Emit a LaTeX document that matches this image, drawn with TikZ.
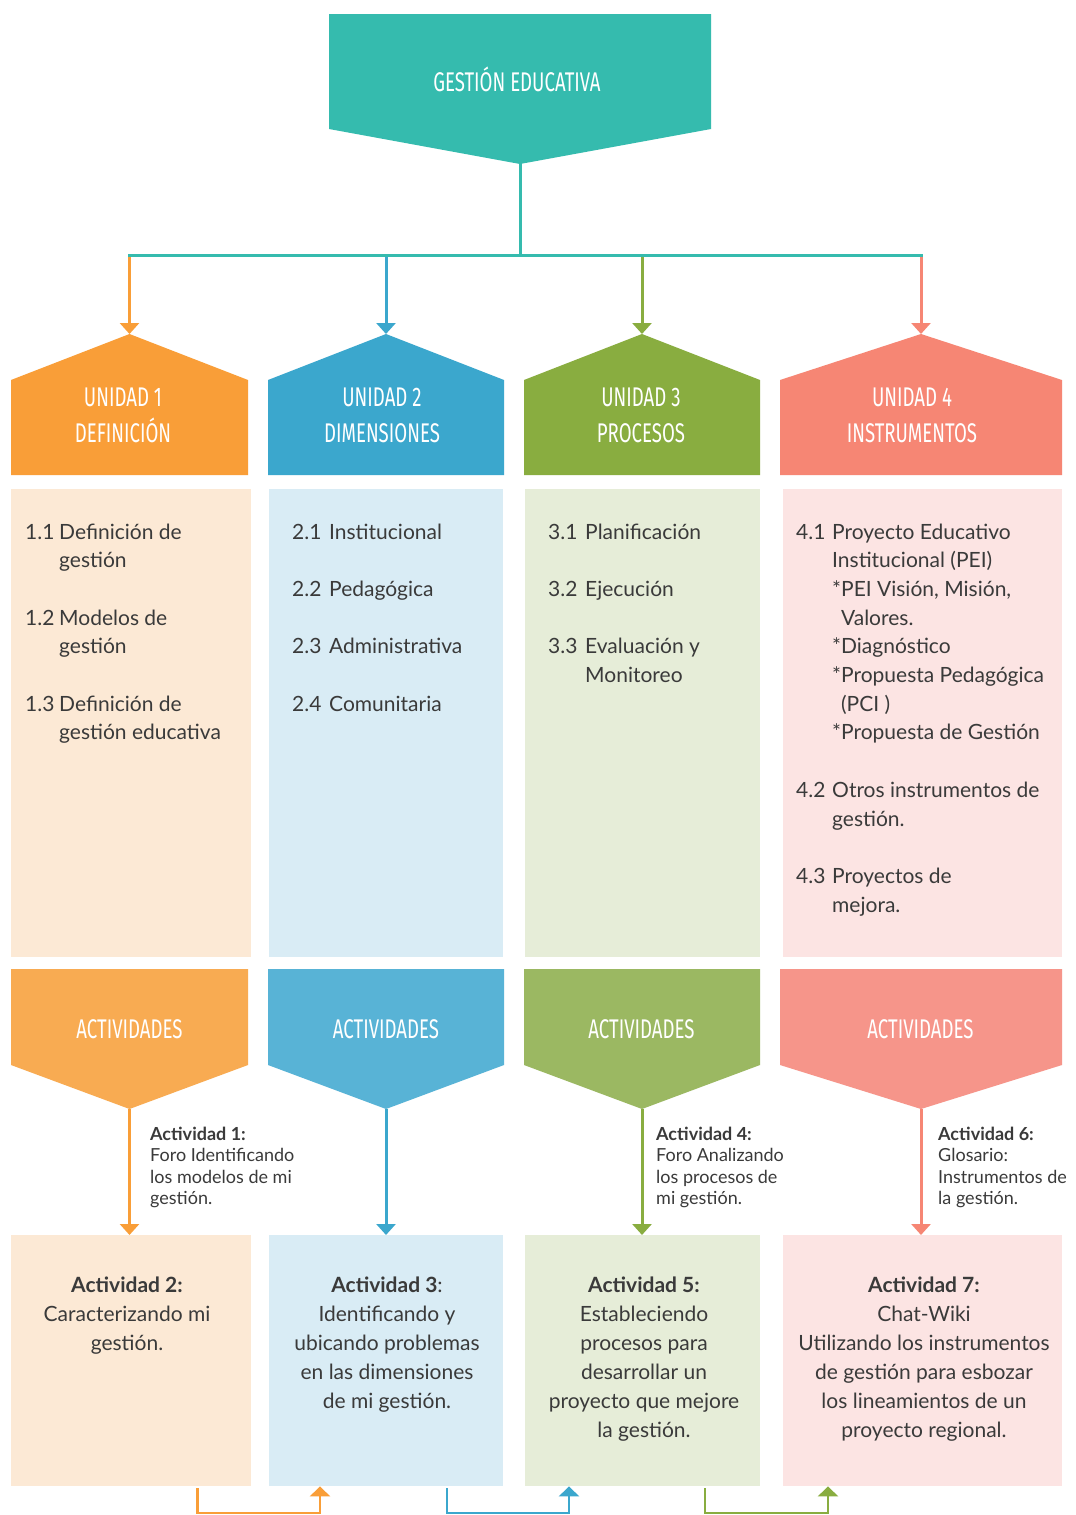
\documentclass[tikz,border=0pt]{standalone}
\usepackage{fontspec}
\setmainfont{Lato}
\newfontfamily\condfont[FakeStretch=0.69]{Fira Sans}
\usetikzlibrary{arrows.meta}
\definecolor{cTeal}{HTML}{35BBAE}
\definecolor{cOrU}{HTML}{F99E38}\definecolor{cOrA}{HTML}{F8AB52}\definecolor{cOrL}{HTML}{FCE9D5}
\definecolor{cBlU}{HTML}{3BA7CD}\definecolor{cBlA}{HTML}{58B3D6}\definecolor{cBlL}{HTML}{D9ECF5}
\definecolor{cGrU}{HTML}{89AD40}\definecolor{cGrA}{HTML}{9BB862}\definecolor{cGrL}{HTML}{E6EDD8}
\definecolor{cRdU}{HTML}{F68674}\definecolor{cRdA}{HTML}{F6958A}\definecolor{cRdL}{HTML}{FCE4E3}
\definecolor{cText}{HTML}{3A3A3A}
\newlength\numw
\newcommand\itm[1]{\makebox[\numw][l]{#1}}
\newcommand\cont{\hspace*{\numw}}
\newcommand\llines[1]{\begin{tabular}[t]{@{}l@{}}#1\end{tabular}}
\newcommand\clines[1]{\begin{tabular}[t]{@{}c@{}}#1\end{tabular}}
\newcommand\unitshape[4]{%
  \fill[#3] ({#1-#2},380) -- (#1,334) -- ({#1+#2},380) -- ({#1+#2},475) -- ({#1-#2},475) -- cycle;
  \coordinate (#4) at (#1,334);}
\newcommand\actshape[4]{%
  \fill[#3] ({#1-#2},969) -- ({#1+#2},969) -- ({#1+#2},1065) -- (#1,1109) -- ({#1-#2},1065) -- cycle;
  \coordinate (#4) at (#1,1109);}
\begin{document}
\begin{tikzpicture}[x=1pt,y=-1pt,
  title/.style={inner sep=0, text=white, align=center, font=\condfont\fontsize{27}{36}\selectfont},
  ctext/.style={anchor=base west, inner sep=0, text=cText, font=\fontsize{21}{28.7}\selectfont},
  btext/.style={anchor=base, inner sep=0, text=cText, font=\fontsize{21}{29}\selectfont},
  stext/.style={anchor=base west, inner sep=0, text=cText, font=\fontsize{18}{21.5}\selectfont},
  panel/.style={anchor=north west, inner sep=0, draw=none},
  arr/.style={line width=3pt, -{Triangle[width=19pt,length=11pt]}},
  barr/.style={line width=2.6pt, -{Triangle[width=20pt,length=10pt]}}]
\fill[white] (0,0) rectangle (1076,1515);
\useasboundingbox (0,0) rectangle (1076,1515);
% top
\fill[cTeal] (329,14) -- (711,14) -- (711,129) -- (520,164) -- (329,129) -- cycle;
\node[title] (gt) at (517,79) {GESTIÓN EDUCATIVA};
\coordinate (gtip) at (520,163);
\coordinate (bus) at (520,255);
% unit shapes
\unitshape{129.5}{118.5}{cOrU}{u1a}
\unitshape{386}{118}{cBlU}{u2a}
\unitshape{642}{118}{cGrU}{u3a}
\unitshape{921}{141}{cRdU}{u4a}
\node[title] (u1t) at (123,415) {UNIDAD 1\\DEFINICIÓN};
\node[title] (u2t) at (382,415) {UNIDAD 2\\DIMENSIONES};
\node[title] (u3t) at (641,415) {UNIDAD 3\\PROCESOS};
\node[title] (u4t) at (912,415) {UNIDAD 4\\INSTRUMENTOS};
% connectors top
\draw[arr,cOrU] (u1a |- bus) -- (u1a);
\draw[arr,cBlU] (u2a |- bus) -- (u2a);
\draw[arr,cGrU] (u3a |- bus) -- (u3a);
\draw[arr,cRdU] (u4a |- bus) -- (u4a);
\draw[cTeal, line width=3pt] (gtip) -- (bus);
\draw[cTeal, line width=3pt, line cap=rect] (u1a |- bus) -- (u4a |- bus);
% content panels
\node[panel, fill=cOrL, minimum width=239.5, minimum height=468] (cb1) at (11,489) {};
\node[panel, fill=cBlL, minimum width=234, minimum height=468] (cb2) at (269,489) {};
\node[panel, fill=cGrL, minimum width=235, minimum height=468] (cb3) at (525,489) {};
\node[panel, fill=cRdL, minimum width=279, minimum height=468] (cb4) at (783,489) {};
\setlength\numw{34pt}
\node[ctext] (c1t) at (25,539) {\llines{\itm{1.1}Definición de\\\cont gestión\\[28.7pt]\itm{1.2}Modelos de\\\cont gestión\\[28.7pt]\itm{1.3}Definición de\\\cont gestión educativa}};
\setlength\numw{37pt}
\node[ctext] (c2t) at (292,539) {\llines{\itm{2.1}Institucional\\[28.7pt]\itm{2.2}Pedagógica\\[28.7pt]\itm{2.3}Administrativa\\[28.7pt]\itm{2.4}Comunitaria}};
\node[ctext] (c3t) at (548,539) {\llines{\itm{3.1}Planificación\\[28.7pt]\itm{3.2}Ejecución\\[28.7pt]\itm{3.3}Evaluación y\\\cont Monitoreo}};
\setlength\numw{36pt}
\node[ctext] (c4t) at (796,539) {\llines{\itm{4.1}Proyecto Educativo\\\cont Institucional (PEI)\\\cont *PEI Visión, Misión,\\\cont\phantom{*}Valores.\\\cont *Diagnóstico\\\cont *Propuesta Pedagógica\\\cont\phantom{*}(PCI )\\\cont *Propuesta de Gestión\\[28.7pt]\itm{4.2}Otros instrumentos de\\\cont gestión.\\[28.7pt]\itm{4.3}Proyectos de\\\cont mejora.}};
% activity shapes
\actshape{129.5}{118.5}{cOrA}{a1p}
\actshape{386}{118}{cBlA}{a2p}
\actshape{642}{118}{cGrA}{a3p}
\actshape{921}{141}{cRdA}{a4p}
\node[title] (a1t) at (129.5,1029) {ACTIVIDADES};
\node[title] (a2t) at (386,1029) {ACTIVIDADES};
\node[title] (a3t) at (641.5,1029) {ACTIVIDADES};
\node[title] (a4t) at (920.5,1029) {ACTIVIDADES};
% activity boxes
\node[panel, fill=cOrL, minimum width=239.5, minimum height=251] (ab1) at (11,1235) {};
\node[panel, fill=cBlL, minimum width=234, minimum height=251] (ab2) at (269,1235) {};
\node[panel, fill=cGrL, minimum width=235, minimum height=251] (ab3) at (525,1235) {};
\node[panel, fill=cRdL, minimum width=279, minimum height=251] (ab4) at (783,1235) {};
\draw[arr,cOrU] (a1p) -- (a1p |- ab1.north);
\draw[arr,cBlU] (a2p) -- (a2p |- ab2.north);
\draw[arr,cGrU] (a3p) -- (a3p |- ab3.north);
\draw[arr,cRdU] (a4p) -- (a4p |- ab4.north);
% side labels
\node[stext] (s1) at (150,1140) {\llines{\textbf{Actividad 1:}\\Foro Identificando\\los modelos de mi\\gestión.}};
\node[stext] (s4) at (656,1140) {\llines{\textbf{Actividad 4:}\\Foro Analizando\\los procesos de\\mi gestión.}};
\node[stext] (s6) at (938,1140) {\llines{\textbf{Actividad 6:}\\Glosario:\\Instrumentos de\\la gestión.}};
% box texts
\node[btext] (b1) at (127,1292) {\clines{\textbf{Actividad 2:}\\Caracterizando mi\\gestión.}};
\node[btext] (b2) at (387,1292) {\clines{\textbf{Actividad 3}:\\Identificando y\\ubicando problemas\\en las dimensiones\\de mi gestión.}};
\node[btext] (b3) at (644,1292) {\clines{\textbf{Actividad 5:}\\Estableciendo\\procesos para\\desarrollar un\\proyecto que mejore\\la gestión.}};
\node[btext] (b4) at (924,1292) {\clines{\textbf{Actividad 7:}\\Chat-Wiki\\Utilizando los instrumentos\\de gestión para esbozar\\los lineamientos de un\\proyecto regional.}};
% bottom connectors
\coordinate (o1s) at (197.7,1488);
\coordinate (o2s) at (447,1488);
\coordinate (o3s) at (705,1488);
\draw[barr,cOrU] (o1s) -- (o1s |- 0,1513) -| (ab2.south -| 320,0);
\draw[barr,cBlU] (o2s) -- (o2s |- 0,1513) -| (ab3.south -| 569,0);
\draw[barr,cGrU] (o3s) -- (o3s |- 0,1513) -| (ab4.south -| 828,0);
\end{tikzpicture}
\end{document}
